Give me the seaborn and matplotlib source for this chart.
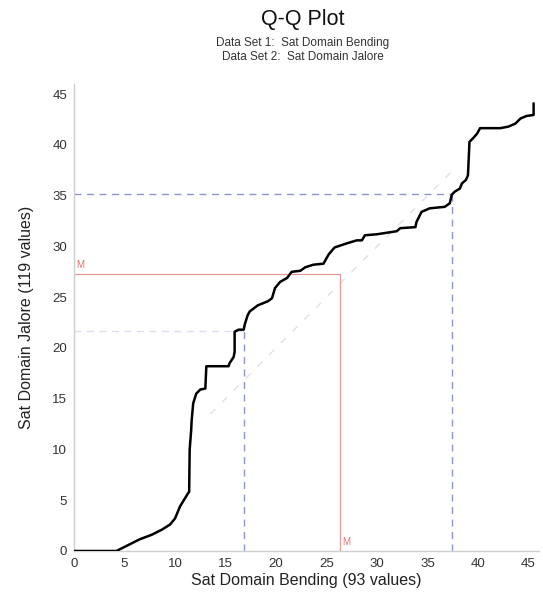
import matplotlib
matplotlib.use("Agg")
import matplotlib.pyplot as plt
import seaborn as sns
import pandas as pd

# Quantile pairs: Sat Domain Bending (x) vs Sat Domain Jalore (y)
qx = [0, 4.2, 5.4, 6.5, 7.7, 8.7, 9.5, 10.0, 10.5, 11.3,
      11.4, 11.45, 11.6, 11.65, 11.8, 12.1, 12.5, 13.0, 13.1, 15.3,
      15.4, 15.8, 15.9, 15.9, 16.3, 16.8, 16.9, 17.2, 17.4, 18.2,
      19.2, 19.6, 19.9, 20.4, 21.1, 21.55, 22.4, 22.9, 23.7, 24.7,
      25.2, 25.8, 27.0, 28.0, 28.5, 28.8, 30.0, 31.3, 31.95, 32.3,
      33.8, 33.9, 34.4, 35.2, 36.7, 37.2, 37.4, 37.7, 38.2, 38.4,
      38.8, 39.0, 39.15, 39.5, 39.9, 40.2, 42.2, 43.0, 43.7, 44.2,
      44.8, 45.5, 45.5]
qy = [0, 0, 0.6, 1.15, 1.6, 2.1, 2.6, 3.2, 4.4, 5.7,
      5.8, 10.0, 11.9, 12.9, 14.55, 15.5, 15.9, 16.0, 18.2, 18.2,
      18.5, 19.1, 19.6, 21.6, 21.8, 21.8, 22.3, 23.25, 23.6, 24.2,
      24.6, 24.9, 25.9, 26.5, 26.9, 27.5, 27.6, 27.95, 28.2, 28.3,
      29.2, 29.9, 30.3, 30.6, 30.6, 31.1, 31.2, 31.4, 31.5, 31.8,
      31.9, 32.4, 33.4, 33.75, 33.9, 34.25, 35.1, 35.4, 35.7, 36.2,
      36.55, 37.0, 40.3, 40.65, 41.1, 41.65, 41.65, 41.8, 42.1, 42.6,
      42.85, 42.95, 44.1]

# Summary statistics of the two data sets
x_quartiles = [16.8, 37.4]
y_quartiles = [21.7, 35.2]
x_median = 26.3
y_median = 27.3
diag_range = [13.5, 37.5]

ticks = [0, 5, 10, 15, 20, 25, 30, 35, 40, 45]

sns.set_theme(style="white")
plt.rcParams["font.family"] = ["Liberation Sans", "DejaVu Sans"]

fig = plt.figure(figsize=(5.43, 6.0), dpi=100)
ax = fig.add_axes([0.1363, 0.0817, 0.8557, 0.7783])

df = pd.DataFrame({"x": qx, "y": qy})

# y = x reference
ax.plot(diag_range, diag_range, color="#e0e0e0", lw=1.0, ls=(0, (5, 7)), zorder=1)

# quartile guides
qcol = "#8a96cc"
ax.plot([x_quartiles[1], x_quartiles[1]], [0, y_quartiles[1]], color=qcol, lw=1.0, ls=(0, (5, 4)), zorder=2)
ax.plot([0, x_quartiles[1]], [y_quartiles[1], y_quartiles[1]], color=qcol, lw=1.0, ls=(0, (5, 4)), zorder=2)
ax.plot([x_quartiles[0], x_quartiles[0]], [0, y_quartiles[0]], color=qcol, lw=1.0, ls=(0, (5, 4)), zorder=2)
ax.plot([0, x_quartiles[0]], [y_quartiles[0], y_quartiles[0]], color=qcol, lw=1.0, ls=(0, (5, 4)), alpha=0.3, zorder=2)

# median guides
mcol = "#e79a9a"
ax.plot([x_median, x_median], [0, y_median], color=mcol, lw=0.9, zorder=2)
ax.plot([0, x_median], [y_median, y_median], color=mcol, lw=0.9, zorder=2)
ax.text(0.25, y_median + 0.35, "M", color="#e07070", fontsize=7, ha="left", va="bottom")
ax.text(x_median + 0.3, 0.35, "M", color="#e07070", fontsize=7, ha="left", va="bottom")

sns.lineplot(data=df, x="x", y="y", sort=False, estimator=None, color="black",
             lw=1.8, ax=ax, zorder=5)

ax.set_xlim(0, 46)
ax.set_ylim(0, 46)
ax.set_xticks(ticks)
ax.set_yticks(ticks)
ax.tick_params(axis="both", labelsize=9.5, labelcolor="#333333", length=2,
               width=1, color="#555555", direction="out", pad=3)

for side in ["top", "right"]:
    ax.spines[side].set_visible(False)
for side in ["left", "bottom"]:
    ax.spines[side].set_color("#cfcfcf")
    ax.spines[side].set_linewidth(1.0)

ax.set_xlabel("Sat Domain Bending (93 values)", fontsize=11.5, color="#222222", labelpad=2)
ax.set_ylabel("Sat Domain Jalore (119 values)", fontsize=11.5, color="#222222", labelpad=13)

fig.text(0.557, 0.967, "Q-Q Plot", fontsize=15.5, ha="center", va="center", color="#111111")
fig.text(0.557, 0.928, "Data Set 1:  Sat Domain Bending", fontsize=8.5, ha="center", va="center", color="#333333")
fig.text(0.557, 0.905, "Data Set 2:  Sat Domain Jalore", fontsize=8.5, ha="center", va="center", color="#333333")

fig.savefig("out.png", dpi=100)
